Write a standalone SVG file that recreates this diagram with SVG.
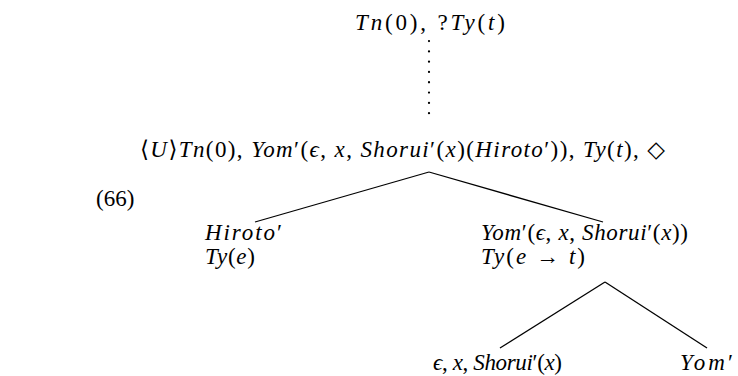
<svg xmlns="http://www.w3.org/2000/svg" width="738" height="376" viewBox="0 0 738 376">
<style>
.t{font-family:'Liberation Serif','DejaVu Serif',serif;font-size:23px;fill:#000}
.i{font-style:italic}
.edge{stroke:#000;stroke-width:1.3;fill:none}
.dots{stroke:#000;stroke-width:2.2;stroke-linecap:round;stroke-dasharray:0.1 10.2;fill:none}
</style>
<rect width="738" height="376" fill="#fff"/>
<g id="connectors">
<line class="dots" x1="429" y1="41" x2="429" y2="123"/>
<line class="edge" x1="429" y1="172" x2="255" y2="222"/>
<line class="edge" x1="429" y1="172" x2="603" y2="222"/>
<line class="edge" x1="605" y1="282" x2="500" y2="348"/>
<line class="edge" x1="605" y1="282" x2="707" y2="348"/>
</g>
<g id="example-number"><text class="t" x="96" y="206">(66)</text></g>
<g id="n-root"><text class="t" x="355" y="30" textLength="150" lengthAdjust="spacing"><tspan class="i">Tn</tspan>(0), ?<tspan class="i">Ty</tspan>(<tspan class="i">t</tspan>)</text></g>
<g id="n-top"><text class="t" x="140" y="157" textLength="525" lengthAdjust="spacing">⟨<tspan class="i">U</tspan>⟩<tspan class="i">Tn</tspan>(0), <tspan class="i">Yom</tspan>′(<tspan class="i">ϵ</tspan>, <tspan class="i">x</tspan>, <tspan class="i">Shorui</tspan>′(<tspan class="i">x</tspan>)(<tspan class="i">Hiroto</tspan>′)), <tspan class="i">Ty</tspan>(<tspan class="i">t</tspan>), ◇</text></g>
<g id="n-hiroto">
<text class="t" x="205" y="240" textLength="77" lengthAdjust="spacing"><tspan class="i">Hiroto</tspan>′</text>
<text class="t" x="205" y="264" textLength="50" lengthAdjust="spacing"><tspan class="i">Ty</tspan>(<tspan class="i">e</tspan>)</text>
</g>
<g id="n-pred">
<text class="t" x="481" y="240" textLength="207" lengthAdjust="spacing"><tspan class="i">Yom</tspan>′(<tspan class="i">ϵ</tspan>, <tspan class="i">x</tspan>, <tspan class="i">Shorui</tspan>′(<tspan class="i">x</tspan>))</text>
<text class="t" x="481" y="264" textLength="104" lengthAdjust="spacing"><tspan class="i">Ty</tspan>(<tspan class="i">e</tspan> → <tspan class="i">t</tspan>)</text>
</g>
<g id="n-term"><text class="t" x="433" y="370" textLength="129" lengthAdjust="spacing"><tspan class="i">ϵ</tspan>, <tspan class="i">x</tspan>, <tspan class="i">Shorui</tspan>′(<tspan class="i">x</tspan>)</text></g>
<g id="n-yom"><text class="t" x="680" y="370" textLength="53" lengthAdjust="spacing"><tspan class="i">Yom</tspan>′</text></g>
</svg>
